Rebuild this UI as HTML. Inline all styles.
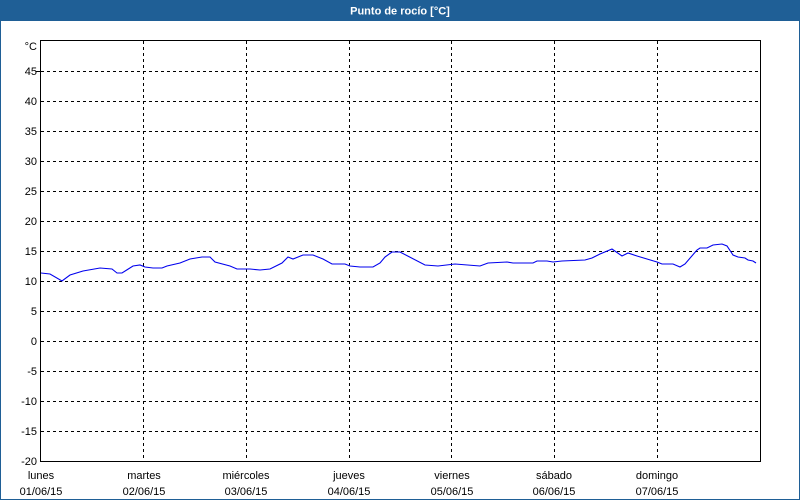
<!DOCTYPE html>
<html><head><meta charset="utf-8"><style>
body{margin:0;background:#fff}
svg{display:block;font-family:"Liberation Sans",sans-serif;font-size:11px}
</style></head><body>
<svg width="800" height="500" xmlns="http://www.w3.org/2000/svg">
<rect x="0" y="0" width="800" height="500" fill="#1f5f96"/>
<rect x="1" y="21" width="798" height="478" fill="#fff"/>
<text x="400" y="14.5" text-anchor="middle" fill="#fff" font-weight="bold">Punto de rocío [°C]</text>
<g stroke="#000" stroke-dasharray="3,3" stroke-width="1">
<line x1="41" x2="760" y1="71.5" y2="71.5"/><line x1="41" x2="760" y1="101.5" y2="101.5"/>
<line x1="41" x2="760" y1="131.5" y2="131.5"/><line x1="41" x2="760" y1="161.5" y2="161.5"/>
<line x1="41" x2="760" y1="191.5" y2="191.5"/><line x1="41" x2="760" y1="221.5" y2="221.5"/>
<line x1="41" x2="760" y1="251.5" y2="251.5"/><line x1="41" x2="760" y1="281.5" y2="281.5"/>
<line x1="41" x2="760" y1="311.5" y2="311.5"/><line x1="41" x2="760" y1="341.5" y2="341.5"/>
<line x1="41" x2="760" y1="371.5" y2="371.5"/><line x1="41" x2="760" y1="401.5" y2="401.5"/>
<line x1="41" x2="760" y1="431.5" y2="431.5"/>
<line y1="41" y2="461" x1="143.5" x2="143.5"/><line y1="41" y2="461" x1="246.5" x2="246.5"/>
<line y1="41" y2="461" x1="349.5" x2="349.5"/><line y1="41" y2="461" x1="451.5" x2="451.5"/>
<line y1="41" y2="461" x1="554.5" x2="554.5"/><line y1="41" y2="461" x1="657.5" x2="657.5"/>
</g>
<g stroke="#000" stroke-width="1">
<rect x="40.5" y="40.5" width="720" height="421" fill="none"/>
<line x1="36" x2="41" y1="71.5" y2="71.5"/>
</g>
<polyline fill="none" stroke="#0000ee" stroke-width="1.1" points="41,273 50,274 62,281 70,275 83,271 100,268 112,269 117,273 122,273 133,266 140,265 145,267 153,268 162,268 167,266 180,263 190,259 202,257 210,257 215,262 230,266 237,269 250,269 260,270 270,269 282,263 288,257 293,259 303,255 313,255 323,259 332,264 345,264 350,266 360,267 373,267 380,263 385,257 392,252 400,252 425,265 438,266 455,264 480,266 488,263 507,262 513,263 533,263 537,261 547,261 553,262 562,261 585,260 592,258 600,254 612,249 622,256 628,253 637,256 647,259 657,262 662,264 673,264 680,267 685,264 697,250 700,248 707,248 713,245 722,244 727,246 733,255 738,257 745,258 748,260 753,261 756,263"/>
<g text-anchor="end" fill="#000">
<text x="37" y="50">°C</text>
<text x="37" y="75">45</text><text x="37" y="105">40</text><text x="37" y="135">35</text>
<text x="37" y="165">30</text><text x="37" y="195">25</text><text x="37" y="225">20</text>
<text x="37" y="255">15</text><text x="37" y="285">10</text><text x="37" y="315">5</text>
<text x="37" y="345">0</text><text x="37" y="375">-5</text><text x="37" y="405">-10</text>
<text x="37" y="435">-15</text><text x="37" y="465">-20</text>
</g>
<g text-anchor="middle" fill="#000">
<text x="41" y="479">lunes</text><text x="41" y="495">01/06/15</text>
<text x="144" y="479">martes</text><text x="144" y="495">02/06/15</text>
<text x="246" y="479">miércoles</text><text x="246" y="495">03/06/15</text>
<text x="349" y="479">jueves</text><text x="349" y="495">04/06/15</text>
<text x="452" y="479">viernes</text><text x="452" y="495">05/06/15</text>
<text x="554" y="479">sábado</text><text x="554" y="495">06/06/15</text>
<text x="657" y="479">domingo</text><text x="657" y="495">07/06/15</text>
</g>
</svg>
</body></html>
